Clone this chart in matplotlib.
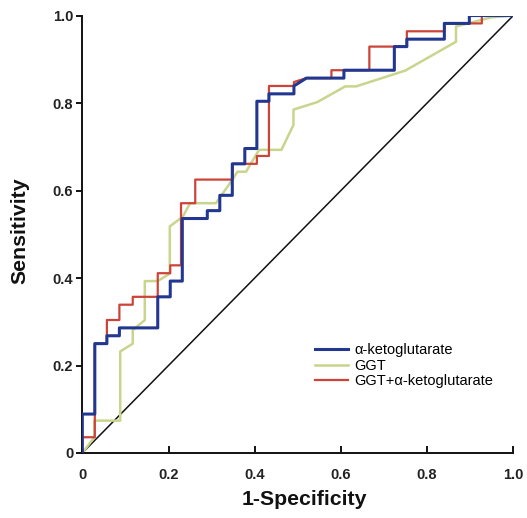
import matplotlib
matplotlib.use("Agg")
import matplotlib.pyplot as plt

plt.rcParams['font.family'] = ['Liberation Sans', 'DejaVu Sans']

# ROC curve data (1-specificity, sensitivity)
akg_x = [0, 0, 0.029, 0.029, 0.057, 0.057, 0.086, 0.086, 0.175, 0.175, 0.204, 0.204,
         0.232, 0.232, 0.29, 0.29, 0.319, 0.319, 0.348, 0.348, 0.377, 0.377, 0.405, 0.405,
         0.433, 0.433, 0.491, 0.491, 0.52, 0.607, 0.607, 0.724, 0.724, 0.753, 0.753,
         0.84, 0.84, 0.898, 0.898, 1.0]
akg_y = [0, 0.089, 0.089, 0.25, 0.25, 0.268, 0.268, 0.286, 0.286, 0.357, 0.357, 0.393,
         0.393, 0.536, 0.536, 0.554, 0.554, 0.589, 0.589, 0.661, 0.661, 0.696, 0.696, 0.804,
         0.804, 0.821, 0.821, 0.839, 0.857, 0.857, 0.875, 0.875, 0.929, 0.929, 0.946,
         0.946, 0.982, 0.982, 1.0, 1.0]

ggt_x = [0, 0.028, 0.028, 0.088, 0.088, 0.117, 0.117, 0.145, 0.145, 0.175, 0.203, 0.203,
         0.233, 0.25, 0.31, 0.347, 0.36, 0.38, 0.41, 0.462, 0.49, 0.49, 0.545, 0.61,
         0.635, 0.749, 0.867, 0.867, 0.95, 1.0]
ggt_y = [0, 0.036, 0.074, 0.074, 0.232, 0.25, 0.281, 0.304, 0.393, 0.393, 0.41, 0.518,
         0.54, 0.571, 0.571, 0.623, 0.643, 0.643, 0.693, 0.693, 0.75, 0.785, 0.802, 0.838,
         0.838, 0.874, 0.94, 0.975, 0.996, 1.0]

comb_x = [0, 0, 0.029, 0.029, 0.057, 0.057, 0.086, 0.086, 0.117, 0.117, 0.175, 0.175,
          0.204, 0.204, 0.229, 0.229, 0.262, 0.262, 0.349, 0.349, 0.405, 0.405, 0.433,
          0.433, 0.491, 0.491, 0.52, 0.578, 0.578, 0.666, 0.666, 0.753, 0.753, 0.84, 0.84,
          0.927, 0.927, 1.0]
comb_y = [0, 0.036, 0.036, 0.25, 0.25, 0.304, 0.304, 0.339, 0.339, 0.357, 0.357, 0.411,
          0.411, 0.429, 0.429, 0.571, 0.571, 0.625, 0.625, 0.661, 0.661, 0.679, 0.679,
          0.839, 0.839, 0.848, 0.857, 0.857, 0.875, 0.875, 0.929, 0.929, 0.964, 0.964,
          0.982, 0.982, 1.0, 1.0]

ref_x = [0, 1]
ref_y = [0, 1]

ticks = [0, 0.2, 0.4, 0.6, 0.8, 1.0]
tick_labels = ['0', '0.2', '0.4', '0.6', '0.8', '1.0']

fig = plt.figure(figsize=(5.27, 5.18), dpi=100)
ax = fig.add_axes([0.1562, 0.1255, 0.8178, 0.8445])

ax.plot(ref_x, ref_y, color='#111111', lw=1.1, zorder=1)
ax.plot(ggt_x, ggt_y, color='#c9d48c', lw=1.8, label='GGT', zorder=2)
ax.plot(comb_x, comb_y, color='#cc4438', lw=1.6, label='GGT+\u03b1-ketoglutarate', zorder=3)
ax.plot(akg_x, akg_y, color='#22378f', lw=2.2, label='\u03b1-ketoglutarate', zorder=4)

ax.set_xlim(0, 1)
ax.set_ylim(0, 1)
ax.set_xticks(ticks)
ax.set_xticklabels(tick_labels)
ax.set_yticks(ticks)
ax.set_yticklabels(tick_labels)

for s in ['top', 'right']:
    ax.spines[s].set_visible(False)
for s in ['left', 'bottom']:
    ax.spines[s].set_linewidth(1.4)
    ax.spines[s].set_color('#111111')

ax.tick_params(axis='x', direction='in', length=5, width=1.3, labelsize=10.5, pad=10.5)
ax.tick_params(axis='y', direction='out', length=4, width=1.3, labelsize=10.5, pad=2.5)
for lbl in ax.get_xticklabels() + ax.get_yticklabels():
    lbl.set_fontweight('bold')
    lbl.set_color('#222222')

ax.set_xlabel('1-Specificity', fontsize=15.3, fontweight='bold', color='#111111')
ax.set_ylabel('Sensitivity', fontsize=15.3, fontweight='bold', color='#111111')
ax.xaxis.label.set_va('center')
ax.yaxis.label.set_va('center')
ax.xaxis.set_label_coords(0.515, -0.107)
ax.yaxis.set_label_coords(-0.145, 0.508)

handles, labels = ax.get_legend_handles_labels()
order = [2, 0, 1]
leg = ax.legend([handles[i] for i in order], [labels[i] for i in order],
                loc='upper left', bbox_to_anchor=(0.527, 0.264), frameon=False,
                fontsize=10.5, handlelength=2.26, handletextpad=0.4, labelspacing=0.1,
                borderaxespad=0)

fig.savefig('out.png', dpi=100)
